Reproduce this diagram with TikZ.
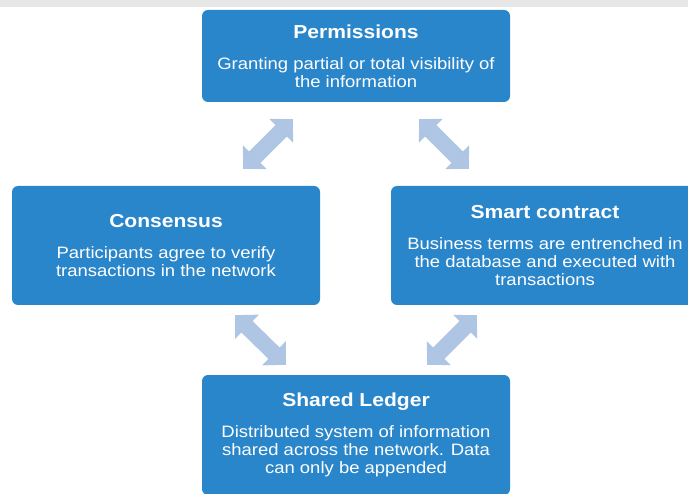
\documentclass[tikz,border=0pt]{standalone}
\usepackage{fontspec}
\setmainfont{Liberation Sans}[FakeStretch=1.12]
\usetikzlibrary{arrows.meta}
\definecolor{boxblue}{RGB}{42,134,202}
\definecolor{arrowblue}{RGB}{174,197,227}
\definecolor{topgray}{RGB}{231,231,231}
\newcommand{\boxtitle}[1]{{\bfseries\fontsize{18.8}{18}\selectfont #1}\\[13pt]}
\begin{document}
\begin{tikzpicture}[x=1pt,y=1pt]
\tikzstyle{every node}=[rectangle,rounded corners=6pt,fill=boxblue,text=white,minimum width=308pt,align=center,font=\fontsize{16.5}{18}\selectfont,inner sep=0pt]
\tikzstyle{dbl}=[arrowblue,line width=16pt,{Triangle[width=33pt,length=16.5pt]}-{Triangle[width=33pt,length=16.5pt]}]
\useasboundingbox (0,0) rectangle (688,493);
\clip (0,0) rectangle (688,493);
\fill[topgray] (0,486) rectangle (688,493);
\node[minimum height=92pt](perm) at (356,437) {\boxtitle{Permissions}Granting partial or total visibility of\\the information};
\node[minimum height=119pt](cons) at (166,247.5) {\boxtitle{Consensus}Participants agree to verify\\transactions in the network};
\node[minimum height=119pt](smart) at (545,247.5) {\boxtitle{Smart contract}Business terms are entrenched in\\the database and executed with\\transactions};
\node[minimum height=120pt](ledger) at (356,58) {\boxtitle{Shared Ledger}Distributed system of information\\shared across the network. Data\\can only be appended};
\draw[dbl] ([shift={(91pt,-17pt)}]perm.south west) -- ([shift={(-77pt,17pt)}]cons.north east);
\draw[dbl] ([shift={(-91pt,-17pt)}]perm.south east) -- ([shift={(78pt,17pt)}]smart.north west);
\draw[dbl] ([shift={(-85pt,-10pt)}]cons.south east) -- ([shift={(84pt,10pt)}]ledger.north west);
\draw[dbl] ([shift={(86pt,-10pt)}]smart.south west) -- ([shift={(-83pt,10pt)}]ledger.north east);
\end{tikzpicture}
\end{document}
